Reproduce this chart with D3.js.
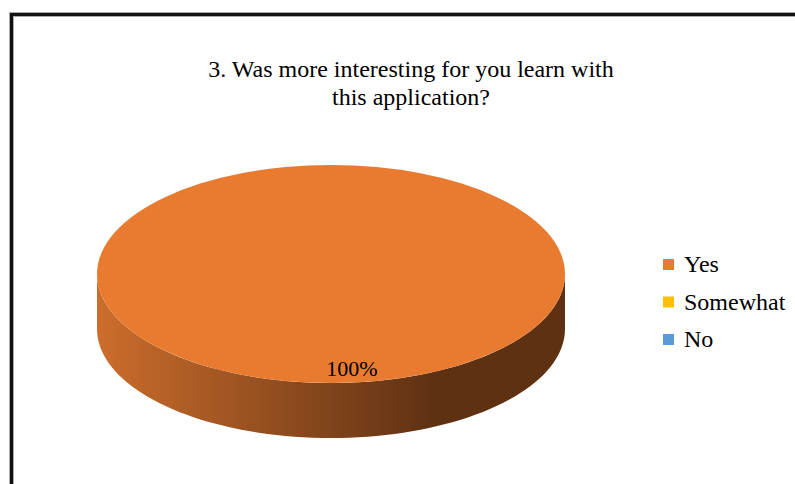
<!DOCTYPE html>
<html>
<head>
<meta charset="utf-8">
<script src="https://cdn.jsdelivr.net/npm/d3@7"></script>
<style>
  html, body { margin: 0; padding: 0; background: #fff; }
  svg { display: block; }
</style>
</head>
<body>
<svg id="chart" width="795" height="484"></svg>
<script>
// Survey answers for question 3
const categories = ["Yes", "Somewhat", "No"];
const values = [100, 0, 0];
const colors = ["#E97B30", "#FFC000", "#5B9BD5"];
const sideShades = [["#CC6D2C", "#5E3113"], ["#D9A300", "#7F6000"], ["#4A84BA", "#22466A"]];
const titleLines = ["3. Was more interesting for you learn with", "this application?"];

const FONT = "'Liberation Serif', 'Times New Roman', 'DejaVu Serif', serif";
const svg = d3.select("#chart");
const W = 795, H = 484;

// Frame (only left and top edges fall inside the page)
const frame = svg.append("g");
frame.append("path").attr("d", `M11.5,${H + 10} V14.5 H${W + 10}`)
  .attr("fill", "none").attr("stroke", "#aaa").attr("stroke-width", 5);
frame.append("path").attr("d", `M11.5,${H + 10} V14.5 H${W + 10}`)
  .attr("fill", "none").attr("stroke", "#111").attr("stroke-width", 3);

// Title
const title = svg.append("text").attr("text-anchor", "middle")
  .attr("font-family", FONT).attr("font-size", 24);
titleLines.forEach((t, i) => {
  title.append("tspan").attr("x", 411).attr("y", 77 + i * 28).text(t);
});

// 3D pie geometry
const cx = 331, cy = 274, rx = 234, ry = 109, depth = 55;
const pie = d3.pie().sort(null).value(d => d)(values);
const total = d3.sum(values);
const pct = d3.format(".0%");

const defs = svg.append("defs");
pie.forEach((p, i) => {
  const g = defs.append("linearGradient").attr("id", "side" + i)
    .attr("gradientUnits", "userSpaceOnUse")
    .attr("x1", cx - rx).attr("x2", cx + rx).attr("y1", 0).attr("y2", 0);
  g.append("stop").attr("offset", "0%").attr("stop-color", sideShades[i][0]);
  g.append("stop").attr("offset", "72%").attr("stop-color", sideShades[i][1]);
  g.append("stop").attr("offset", "100%").attr("stop-color", sideShades[i][1]);
});

// point on the ellipse for a d3 pie angle (0 = 12 o'clock, clockwise)
const pt = (a, k = 1) => [cx + k * rx * Math.sin(a), cy - k * ry * Math.cos(a)];

// outer wall: visible where the rim faces the viewer (angles between PI/2 and 3PI/2)
const sides = svg.append("g");
pie.forEach((p, i) => {
  if (p.endAngle - p.startAngle <= 0) return;
  const a0 = Math.max(p.startAngle, Math.PI / 2);
  const a1 = Math.min(p.endAngle, 3 * Math.PI / 2);
  if (a1 <= a0) return;
  const n = 80;
  const top = d3.range(n + 1).map(k => pt(a0 + (a1 - a0) * k / n));
  const bot = top.map(([x, y]) => [x, y + depth]).reverse();
  sides.append("path")
    .attr("d", d3.line()(top.concat(bot)) + "Z")
    .attr("fill", `url(#side${i})`);
});

// top face: regular d3 arcs squashed into an ellipse
const arc = d3.arc().innerRadius(0).outerRadius(rx);
svg.append("g")
  .attr("transform", `translate(${cx},${cy}) scale(1,${ry / rx})`)
  .selectAll("path")
  .data(pie.filter(p => p.value > 0))
  .join("path")
  .attr("d", arc)
  .attr("fill", d => colors[d.index]);

// value labels, placed near the rim of each slice
svg.append("g").selectAll("text")
  .data(pie.filter(p => p.value > 0))
  .join("text")
  .attr("text-anchor", "middle")
  .attr("font-family", FONT)
  .attr("font-size", 22)
  .attr("x", d => pt((d.startAngle + d.endAngle) / 2, 0.87)[0] + 21)
  .attr("y", d => pt((d.startAngle + d.endAngle) / 2, 0.87)[1] + 7)
  .text(d => pct(d.value / total));

// Legend
const legend = svg.append("g").attr("transform", "translate(663,259)");
const items = legend.selectAll("g").data(categories).join("g")
  .attr("transform", (d, i) => `translate(0,${i * 37.5})`);
items.append("rect").attr("width", 11).attr("height", 11)
  .attr("fill", (d, i) => colors[i]);
items.append("text").attr("x", 21).attr("y", 13)
  .attr("font-family", FONT).attr("font-size", 24).text(d => d);
</script>
</body>
</html>
